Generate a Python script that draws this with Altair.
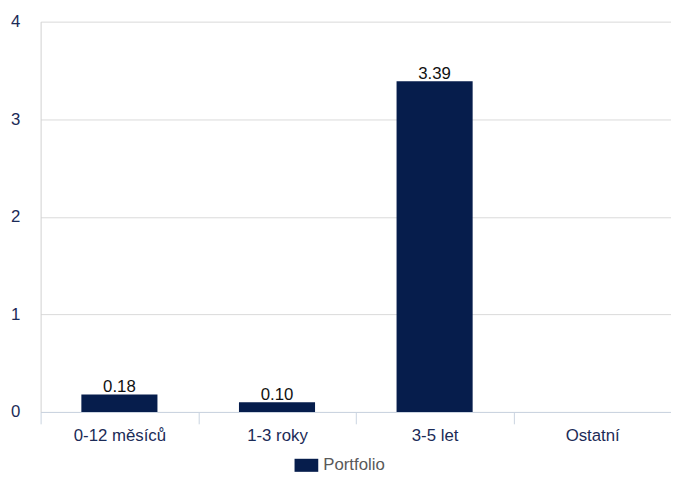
import altair as alt
import pandas as pd

categories = ["0-12 měsíců", "1-3 roky", "3-5 let", "Ostatní"]
values = [0.18, 0.10, 3.39, None]
labels = ["0.18", "0.10", "3.39", ""]
series = ["Portfolio", "Portfolio", "Portfolio", "Portfolio"]

df = pd.DataFrame({"cat": categories, "val": values, "lbl": labels, "series": series})

NAVY = "#061d4c"
FONT = "Liberation Sans"
FS = 17

x_enc = alt.X("cat:N", sort=categories, title=None,
              scale=alt.Scale(paddingInner=0, paddingOuter=0),
              axis=alt.Axis(labelAngle=0, labelColor="#1b2b57", labelFontSize=FS,
                            labelFont=FONT, domainColor="#c9d3e0", tickColor="#c9d3e0",
                            tickBand="extent", tickSize=12, labelPadding=4, grid=False))

bars = alt.Chart(df).mark_bar(size=77).encode(
    x=x_enc,
    y=alt.Y("val:Q", title=None,
            scale=alt.Scale(domain=[0, 4], nice=False),
            axis=alt.Axis(values=[0, 1, 2, 3, 4], format="d", labelColor="#1b2b57",
                          labelFontSize=FS, labelFont=FONT, domainColor="#d0d0d0",
                          gridColor="#d9d9d9", ticks=False, labelPadding=21,
                          labelAlign="right")),
    color=alt.Color("series:N", scale=alt.Scale(range=[NAVY]),
                    legend=alt.Legend(title=None, orient="none", legendX=257, legendY=437,
                                      direction="horizontal",
                                      symbolType="M-1,-0.55L1,-0.55L1,0.55L-1,0.55Z",
                                      symbolSize=576, symbolStrokeWidth=0,
                                      labelFont=FONT, labelFontSize=FS, labelColor="#595959",
                                      labelOffset=5)),
)

text = alt.Chart(df).mark_text(baseline="alphabetic", dy=-2, font=FONT, fontSize=FS,
                               color="#111111").encode(
    x=alt.X("cat:N", sort=categories),
    y=alt.Y("val:Q"),
    text="lbl:N",
)

chart = alt.layer(bars, text).properties(
    width=638, height=395,
    autosize=alt.AutoSizeParams(type="none"),
    padding={"left": 33, "top": 11, "right": 0, "bottom": 62},
).configure_view(stroke=None)

chart.save("out.html", embed_options={"renderer": "svg", "actions": False})
